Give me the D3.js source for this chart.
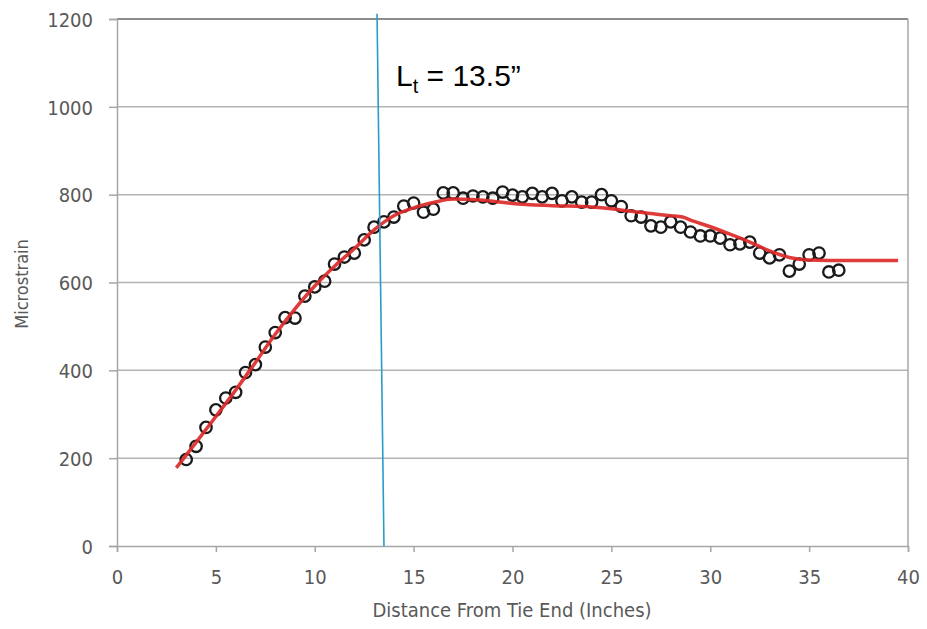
<!DOCTYPE html>
<html lang="en">
  <head>
    <meta charset="utf-8">
    <title>Microstrain vs Distance From Tie End</title>
    <script src="https://d3js.org/d3.v7.min.js"></script>
    <style type="text/css">
      body, html {
        margin: 0;
        padding: 0;
        background: #fff;
      }
      .tick text {
        font-family: "DejaVu Sans Condensed", "DejaVu Sans", sans-serif;
        font-size: 20px;
        fill: #595959;
      }
      .axis-title {
        font-family: "DejaVu Sans Condensed", "DejaVu Sans", sans-serif;
        fill: #595959;
      }
    </style>
  </head>
  <body>
    <script type="text/javascript">

      var w = 927;
      var h = 629;

      // measured strain (circles)
      var distance = [3.5, 4, 4.5, 5, 5.5, 6, 6.5, 7, 7.5, 8, 8.5, 9, 9.5, 10, 10.5, 11, 11.5, 12,
        12.5, 13, 13.5, 14, 14.5, 15, 15.5, 16, 16.5, 17, 17.5, 18, 18.5, 19, 19.5, 20, 20.5,
        21, 21.5, 22, 22.5, 23, 23.5, 24, 24.5, 25, 25.5, 26, 26.5, 27, 27.5, 28, 28.5, 29,
        29.5, 30, 30.5, 31, 31.5, 32, 32.5, 33, 33.5, 34, 34.5, 35, 35.5, 36, 36.5];
      var strain = [197, 227, 270, 310, 337, 350, 395, 413, 453, 486, 520, 519, 569, 590, 603, 642, 658, 667,
        697, 726, 738, 749, 774, 781, 760, 767, 804, 804, 792, 797, 795, 792, 806, 799, 795,
        803, 795, 803, 786, 795, 783, 783, 800, 786, 773, 752, 749, 729, 726, 738, 726, 715,
        706, 706, 701, 686, 688, 692, 667, 656, 663, 626, 642, 663, 667, 624, 628];

      // fitted curve (red)
      var fitX = [3, 4, 5, 6, 7, 8, 9, 10, 11, 12, 13, 14, 15, 16, 17, 18, 19, 20, 22, 24, 25, 26,
        27, 28, 28.6, 29, 30, 31, 32, 33, 34, 35, 36, 39.5];
      var fitY = [178, 236, 295, 355, 418, 482, 540, 592, 637, 677, 720, 752, 770, 782, 790, 789, 785, 780,
        775, 772, 768, 762, 757, 752, 749, 742, 727, 710, 692, 672, 657, 651, 650, 650];

      // transfer length marker
      var ltX = [13.15, 13.5];
      var ltY = [1212, 0];

      var xTicks = [0, 5, 10, 15, 20, 25, 30, 35, 40];
      var yTicks = [0, 200, 400, 600, 800, 1000, 1200];

      var svg = d3.select("body")
        .append("svg")
        .attr("width", w)
        .attr("height", h);

      var x = d3.scaleLinear().domain([0, 40]).range([117, 908]);
      var y = d3.scaleLinear().domain([0, 1200]).range([546, 19]);

      // gridlines
      svg.append("g")
        .selectAll("line")
        .data(yTicks.slice(1))
        .enter()
        .append("line")
        .attr("x1", x(0))
        .attr("x2", x(40))
        .attr("y1", function(d){ return y(d); })
        .attr("y2", function(d){ return y(d); })
        .attr("stroke", function(d){ return d === 1200 ? "#8c8c8c" : "#b3b3b3"; })
        .attr("stroke-width", function(d){ return d === 1200 ? 2 : 1.5; });

      // right border
      svg.append("line")
        .attr("x1", x(40)).attr("x2", x(40))
        .attr("y1", y(1200)).attr("y2", y(0))
        .attr("stroke", "#a6a6a6")
        .attr("stroke-width", 1.5);

      // axes
      var xAxis = svg.append("g")
        .attr("transform", "translate(0," + y(0) + ")")
        .call(d3.axisBottom(x).tickValues(xTicks).tickFormat(d3.format("d")).tickSize(6).tickPadding(14));

      var yAxis = svg.append("g")
        .attr("transform", "translate(" + x(0) + ",0)")
        .call(d3.axisLeft(y).tickValues(yTicks).tickFormat(d3.format("d")).tickSize(8).tickPadding(16));

      [xAxis, yAxis].forEach(function(a){
        a.select(".domain").attr("stroke", "#a6a6a6").attr("stroke-width", 1.5);
        a.selectAll(".tick line").attr("stroke", "#a6a6a6").attr("stroke-width", 1.5);
      });
      xAxis.selectAll(".tick text").attr("dy", "0.9em");
      yAxis.selectAll(".tick text").attr("dy", "0.36em");

      // axis titles
      svg.append("text")
        .attr("class", "axis-title")
        .attr("x", 512)
        .attr("y", 617)
        .attr("text-anchor", "middle")
        .style("font-size", "20px")
        .text("Distance From Tie End (Inches)");

      svg.append("text")
        .attr("class", "axis-title")
        .attr("transform", "translate(28,284) rotate(-90)")
        .attr("text-anchor", "middle")
        .style("font-size", "18px")
        .text("Microstrain");

      // measured points
      svg.append("g")
        .selectAll("circle")
        .data(distance)
        .enter()
        .append("circle")
        .attr("cx", function(d){ return x(d); })
        .attr("cy", function(d, i){ return y(strain[i]); })
        .attr("r", 5.7)
        .attr("fill", "none")
        .attr("stroke", "#1a1a1a")
        .attr("stroke-width", 2.3);

      // fitted line
      var fitLine = d3.line()
        .x(function(d){ return x(d); })
        .y(function(d, i){ return y(fitY[i]); })
        .curve(d3.curveMonotoneX);

      svg.append("path")
        .datum(fitX)
        .attr("d", fitLine)
        .attr("fill", "none")
        .attr("stroke", "#dc2a2a")
        .attr("stroke-width", 3.5)
        .attr("stroke-opacity", 0.92);

      // Lt line
      var ltLine = d3.line()
        .x(function(d){ return x(d); })
        .y(function(d, i){ return y(ltY[i]); });

      svg.append("path")
        .datum(ltX)
        .attr("d", ltLine)
        .attr("fill", "none")
        .attr("stroke", "#2a9ccc")
        .attr("stroke-width", 1.6);

      // Lt label
      var lbl = svg.append("text")
        .attr("x", 396)
        .attr("y", 86)
        .style("font-family", "'Liberation Sans', Arial, sans-serif")
        .style("font-size", "30px")
        .attr("fill", "#000");
      lbl.append("tspan").text("L");
      lbl.append("tspan").attr("dy", 7).style("font-size", "20px").text("t");
      lbl.append("tspan").attr("dy", -7).text(" = 13.5\u201D");

    </script>
  </body>
</html>
